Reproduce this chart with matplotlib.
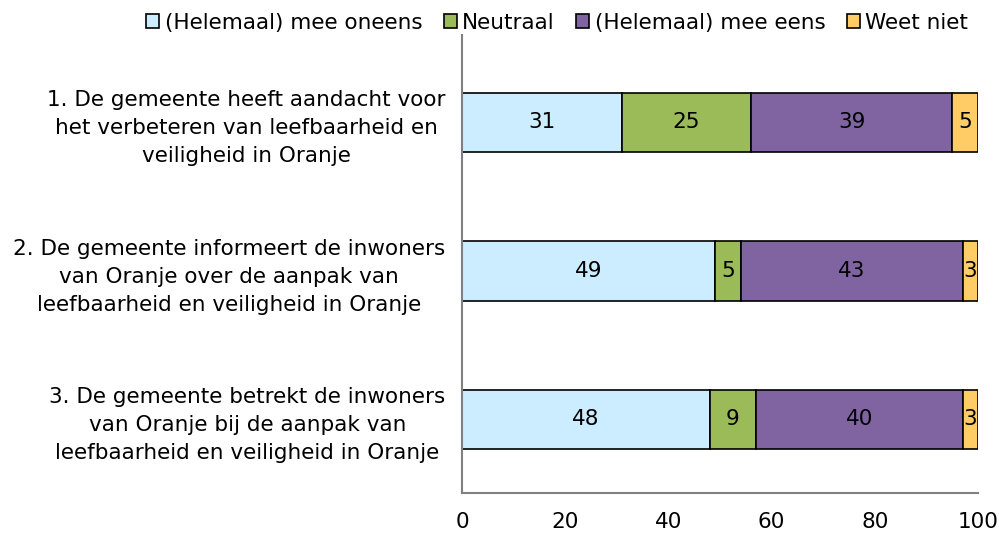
import numpy as np
import matplotlib.pyplot as plt

# Data
statements = [
    '1. De gemeente heeft aandacht voor\nhet verbeteren van leefbaarheid en\nveiligheid in Oranje',
    '2. De gemeente informeert de inwoners\nvan Oranje over de aanpak van\nleefbaarheid en veiligheid in Oranje',
    '3. De gemeente betrekt de inwoners\nvan Oranje bij de aanpak van\nleefbaarheid en veiligheid in Oranje',
]
series_names = ['(Helemaal) mee oneens', 'Neutraal', '(Helemaal) mee eens', 'Weet niet']
oneens = [31, 49, 48]
neutraal = [25, 5, 9]
eens = [39, 43, 40]
weet_niet = [5, 3, 3]
colors = ['#CCECFF', '#9BBB59', '#8064A2', '#FFCC66']
xticks = [0, 20, 40, 60, 80, 100]

plt.rcParams['font.family'] = 'DejaVu Sans'
fs = 15.5

fig = plt.figure(figsize=(9.99, 5.34), dpi=100)
ax = fig.add_axes([0.4625, 0.0768, 0.5165, 0.8577])

y = np.arange(len(statements))
left = np.zeros(len(statements))
handles = []
for name, vals, c in zip(series_names, [oneens, neutraal, eens, weet_niet], colors):
    vals = np.array(vals, dtype=float)
    b = ax.barh(y, vals, left=left, height=0.40, color=c, edgecolor='black',
                linewidth=1.2, label=name)
    handles.append(b)
    for yi, l, v in zip(y, left, vals):
        ax.text(l + v / 2, yi, f'{int(v)}', ha='center', va='center',
                fontsize=fs, color='black')
    left += vals

ax.set_xlim(0, 100)
ax.set_ylim(2.495, -0.589)
ax.set_xticks(xticks)
ax.set_xticklabels([str(t) for t in xticks], fontsize=fs)
ax.set_yticks(y)
ax.set_yticklabels(statements, fontsize=fs, linespacing=1.5, ha='right', multialignment='center')
ax.tick_params(axis='both', length=0)
ax.tick_params(axis='x', pad=14)
ax.tick_params(axis='y', pad=12)

for s in ['top', 'right']:
    ax.spines[s].set_visible(False)
for s in ['left', 'bottom']:
    ax.spines[s].set_color('#808080')
    ax.spines[s].set_linewidth(1.5)

fig.legend(handles=handles, labels=series_names, loc='upper right',
           bbox_to_anchor=(0.982, 1.0), ncol=4, frameon=False, fontsize=fs,
           handlelength=0.6, handleheight=0.6, handletextpad=0.25,
           columnspacing=1.0, borderaxespad=0.2)

fig.savefig('out.png', dpi=100)
